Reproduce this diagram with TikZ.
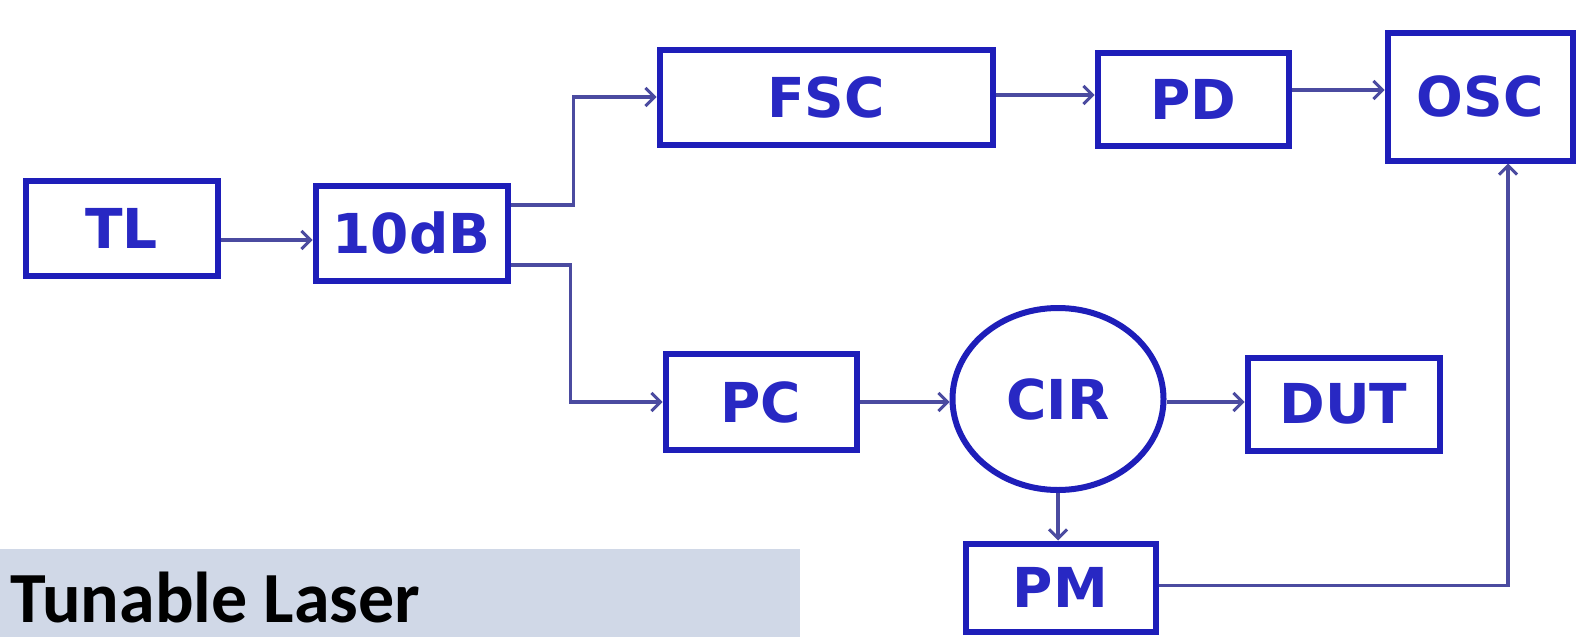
\documentclass[tikz,border=0pt]{standalone}
\usepackage{fontspec}
\usetikzlibrary{arrows.meta,calc,shapes.geometric}
\newfontfamily\boxfont{DejaVu Sans}
\newfontfamily\labelfont{Carlito}
\definecolor{boxblue}{RGB}{30,30,185}
\definecolor{txtblue}{RGB}{40,40,195}
\definecolor{connblue}{RGB}{75,75,160}
\definecolor{panelgray}{RGB}{208,216,231}
\tikzset{
  blk/.style={draw=boxblue, line width=6pt, fill=white, inner sep=0pt,
    font=\boxfont\bfseries\fontsize{55}{60}\selectfont, text=txtblue},
  conn/.style={draw=connblue, line width=3.5pt,
    -{Straight Barb[length=9pt,width=18pt,line width=3pt]}},
  plain/.style={draw=connblue, line width=3.5pt}
}
\begin{document}
\begin{tikzpicture}[x=1pt,y=-1pt]
\useasboundingbox (0,0) rectangle (1578,637);
\fill[white] (0,0) rectangle (1578,637);
% label panel
\fill[panelgray] (0,549) rectangle (800,637);
\node[anchor=base west, inner sep=0pt, font=\labelfont\bfseries\fontsize{72}{80}\selectfont] (lbl) at (10,622) {Tunable Laser};
% blocks
\node[blk, minimum width=192, minimum height=95] (TL) at (121.5,228) {TL};
\node[blk, minimum width=192, minimum height=95] (dB) at (411.5,233) {10dB};
\node[blk, minimum width=333, minimum height=95] (FSC) at (826,97) {FSC};
\node[blk, minimum width=191, minimum height=93] (PD) at (1193,99) {PD};
\node[blk, minimum width=185, minimum height=128] (OSC) at (1480,96.5) {OSC};
\node[blk, minimum width=191, minimum height=96] (PC) at (761,402) {PC};
\node[blk, ellipse, minimum width=211, minimum height=182] (CIR) at (1058,399) {CIR};
\node[blk, minimum width=192, minimum height=93] (DUT) at (1343.5,404) {DUT};
\node[blk, minimum width=190, minimum height=88] (PM) at (1060.5,587.5) {PM};
% connectors
\draw[conn] ($(TL.east)+(0,12)$) -- ($(dB.west)+(0,7)$);
\draw[conn] ($(dB.east)+(0,-28)$) -- ++(63,0) |- (FSC.west);
\draw[conn] ($(dB.east)+(0,32)$) -- ++(60,0) |- (PC.west);
\draw[conn] ($(FSC.east)+(0,-2)$) -- ($(FSC.east -| PD.west)+(0,-2)$);
\draw[conn] ($(PD.east)+(0,-9)$) -- ($(PD.east -| OSC.west)+(0,-9)$);
\draw[conn] (PC.east) -- (PC.east -| CIR.west);
\draw[conn] ($(CIR.east)+(0,3)$) -- ($(CIR.east -| DUT.west)+(0,3)$);
\draw[conn] (CIR.south) -- (CIR.south |- PM.north);
\draw[conn] ($(PM.east)+(0,-2)$) -| ($(OSC.south)+(28,0)$);
\end{tikzpicture}
\end{document}
